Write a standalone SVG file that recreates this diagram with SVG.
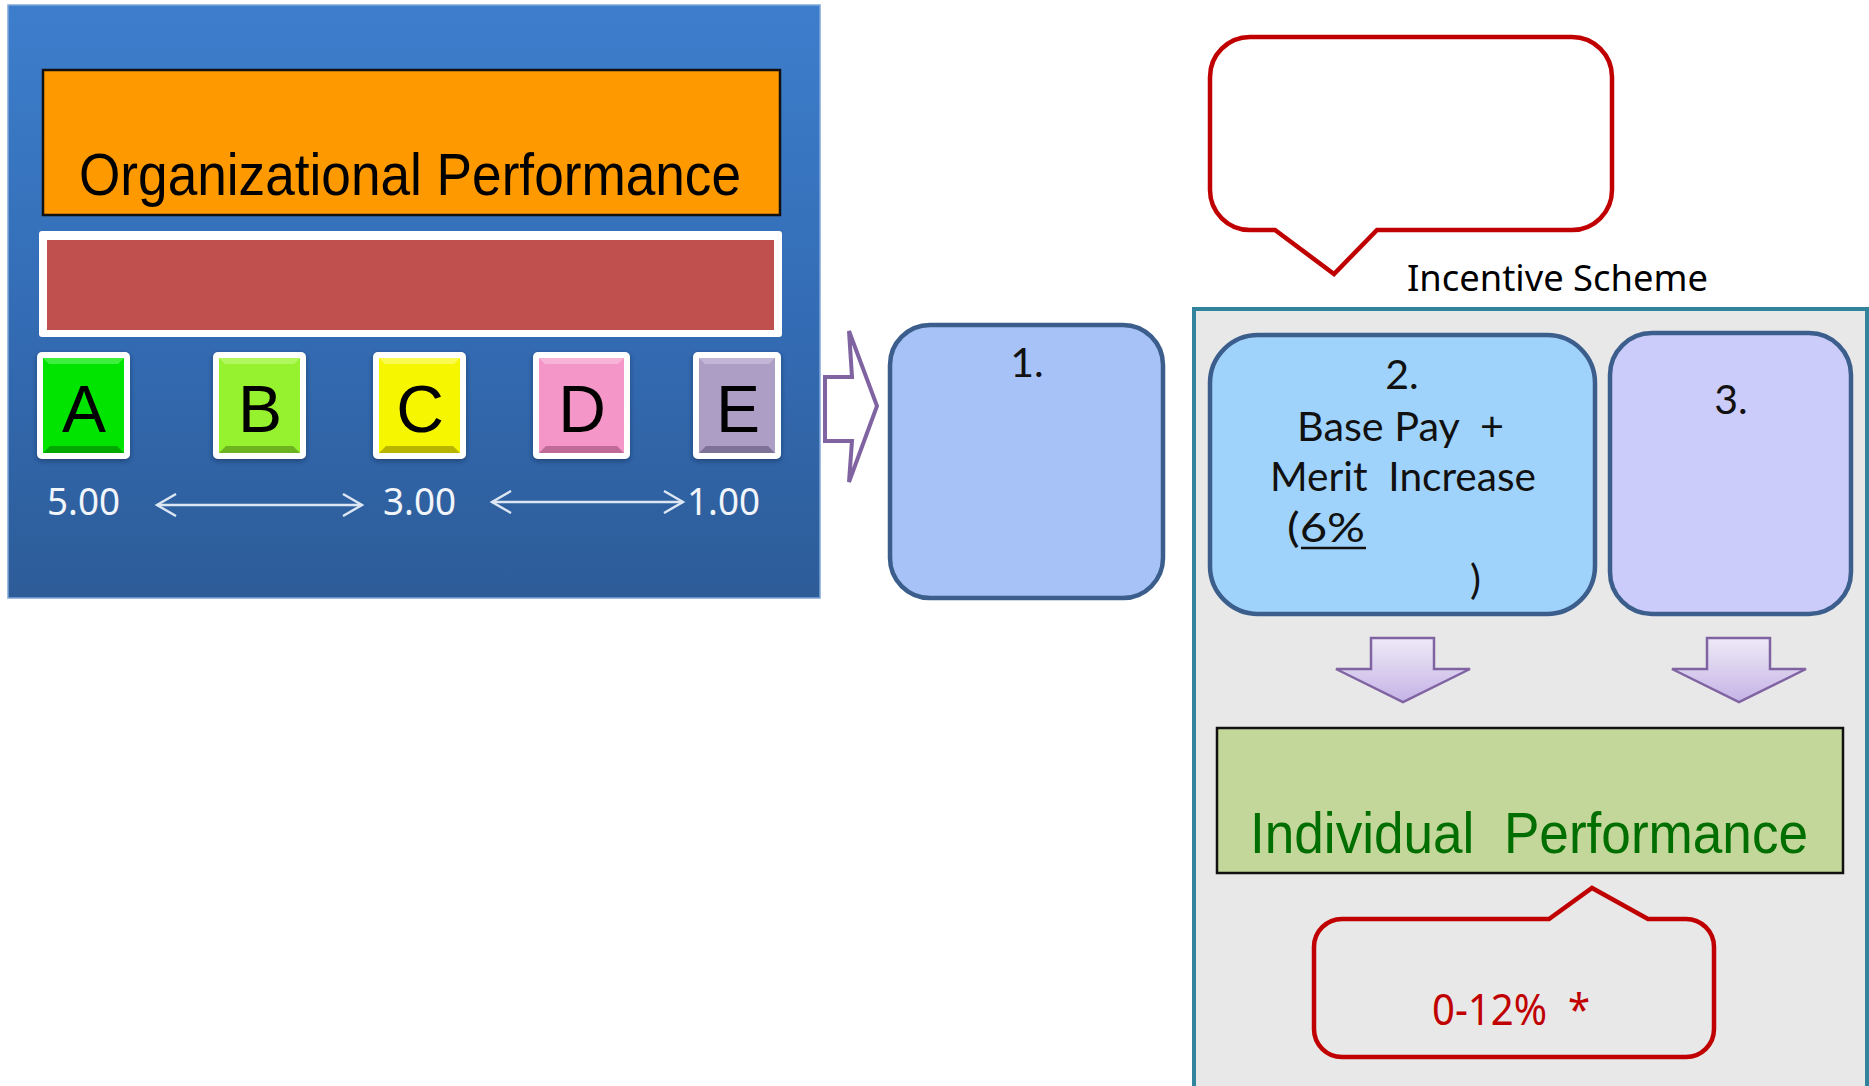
<svg xmlns="http://www.w3.org/2000/svg" width="1869" height="1086" viewBox="0 0 1869 1086">
  <defs>
    <linearGradient id="panelGrad" x1="0" y1="0" x2="0" y2="1">
      <stop offset="0" stop-color="#3D7ECC"/>
      <stop offset="0.5" stop-color="#346DB6"/>
      <stop offset="1" stop-color="#2D5C98"/>
    </linearGradient>
    <linearGradient id="downGrad" x1="0" y1="0" x2="0" y2="1">
      <stop offset="0" stop-color="#EEEAF7"/>
      <stop offset="1" stop-color="#C5B3E6"/>
    </linearGradient>
    <filter id="tileShadow" x="-20%" y="-20%" width="140%" height="140%">
      <feDropShadow dx="0" dy="2" stdDeviation="2.5" flood-color="#0A2040" flood-opacity="0.5"/>
    </filter>
    <marker id="chev" viewBox="0 0 24 24" refX="21" refY="12" markerWidth="24" markerHeight="24" markerUnits="userSpaceOnUse" orient="auto-start-reverse">
      <path d="M2,1 L21,12 L2,23" fill="none" stroke="#DDE7F3" stroke-width="2.4"/>
    </marker>
    <style>
      .sans { font-family: "Liberation Sans", Arial, sans-serif; }
      .ui { font-family: "Noto Sans", "Open Sans", sans-serif; }
      .tileFrame { fill: #FFFFFF; filter: url(#tileShadow); }
      .letter { font-family: "Liberation Sans", Arial, sans-serif; font-size: 66px; fill: #000000; text-anchor: middle; }
      .score { font-family: "Noto Sans", "Open Sans", sans-serif; font-size: 39px; fill: #F2F5FA; }
      .step { stroke: #3B5E8C; stroke-width: 4.5; }
      .boxText { font-family: Lato, "Noto Sans", sans-serif; font-size: 41px; fill: #111111; }
      .callout { fill: none; stroke: #C00000; stroke-width: 4.5; stroke-linejoin: miter; }
      .down { fill: url(#downGrad); stroke: #8064A2; stroke-width: 2.5; }
      .scale { stroke: #DDE7F3; stroke-width: 2.4; fill: none; }
    </style>
  </defs>

  <!-- organizational side -->
  <g id="org-panel">
    <rect x="8" y="5" width="812" height="593" fill="url(#panelGrad)" stroke="#7FA6D8" stroke-width="1.5"/>
  </g>

  <g id="org-performance">
    <rect x="43" y="70" width="737" height="145" fill="#FF9900" stroke="#111111" stroke-width="2.5"/>
    <text class="sans" x="79" y="195" font-size="59" textLength="662" lengthAdjust="spacingAndGlyphs" fill="#000000">Organizational Performance</text>
  </g>

  <g id="org-bar">
    <rect x="39" y="231" width="743" height="106" fill="#FFFFFF" rx="3"/>
    <rect x="47" y="240" width="727" height="90" fill="#C0504D"/>
  </g>

  <!-- grade tiles -->
  <g id="grade-a">
    <rect class="tileFrame" x="37" y="352" width="93" height="107" rx="5"/>
    <rect x="43" y="358" width="81" height="95" fill="#00E400"/>
    <path d="M43,453 L50,446 H117 L124,453 Z" fill="#00A800"/>
    <path d="M43,358 L49,364 H118 L124,358 Z" fill="#3DF03D"/>
    <text class="letter" x="84" y="432">A</text>
  </g>
  <g id="grade-b">
    <rect class="tileFrame" x="213" y="352" width="93" height="107" rx="5"/>
    <rect x="219" y="358" width="81" height="95" fill="#96F22E"/>
    <path d="M219,453 L226,446 H293 L300,453 Z" fill="#6DB320"/>
    <path d="M219,358 L225,364 H294 L300,358 Z" fill="#B0F85E"/>
    <text class="letter" x="260" y="432">B</text>
  </g>
  <g id="grade-c">
    <rect class="tileFrame" x="373" y="352" width="93" height="107" rx="5"/>
    <rect x="379" y="358" width="81" height="95" fill="#F6F600"/>
    <path d="M379,453 L386,446 H453 L460,453 Z" fill="#B8B400"/>
    <path d="M379,358 L385,364 H454 L460,358 Z" fill="#FAFA50"/>
    <text class="letter" x="420" y="432">C</text>
  </g>
  <g id="grade-d">
    <rect class="tileFrame" x="533" y="352" width="97" height="107" rx="5"/>
    <rect x="539" y="358" width="85" height="95" fill="#F496C8"/>
    <path d="M539,453 L546,446 H617 L624,453 Z" fill="#C06A98"/>
    <path d="M539,358 L545,364 H618 L624,358 Z" fill="#F8B4D8"/>
    <text class="letter" x="582" y="432">D</text>
  </g>
  <g id="grade-e">
    <rect class="tileFrame" x="693" y="352" width="88" height="107" rx="5"/>
    <rect x="699" y="358" width="76" height="95" fill="#AC9EC4"/>
    <path d="M699,453 L706,446 H768 L775,453 Z" fill="#7E7298"/>
    <path d="M699,358 L705,364 H769 L775,358 Z" fill="#C2B6D6"/>
    <text class="letter" x="738" y="432">E</text>
  </g>

  <!-- score scale -->
  <g id="score-scale">
    <text class="score" x="47" y="515" textLength="73" lengthAdjust="spacingAndGlyphs">5.00</text>
    <text class="score" x="383" y="515" textLength="73" lengthAdjust="spacingAndGlyphs">3.00</text>
    <text class="score" x="687" y="515" textLength="73" lengthAdjust="spacingAndGlyphs">1.00</text>
  </g>

  <!-- step boxes -->
  <g id="step-1">
    <rect class="step" x="890" y="325" width="273" height="273" rx="40" fill="#A6C2F6"/>
    <text class="boxText" x="1027" y="377" font-size="40" text-anchor="middle">1.</text>
  </g>

  <g id="incentive-label">
    <text class="ui" x="1407" y="291" font-size="36" textLength="301" lengthAdjust="spacingAndGlyphs" fill="#000000">Incentive Scheme</text>
  </g>

  <g id="incentive-scheme">
    <rect x="1194" y="309" width="673" height="800" fill="#E8E8E8" stroke="#31849B" stroke-width="4"/>
  </g>

  <g id="step-2">
    <rect class="step" x="1210" y="335" width="385" height="279" rx="48" fill="#A0D3FB"/>
    <text class="boxText" x="1402" y="389" text-anchor="middle">2.</text>
    <text class="boxText" x="1297" y="441" textLength="207" lengthAdjust="spacingAndGlyphs" style="white-space:pre">Base Pay  +</text>
    <text class="boxText" x="1270" y="491" textLength="266" lengthAdjust="spacingAndGlyphs" style="white-space:pre">Merit  Increase</text>
    <text class="boxText" x="1287" y="542" textLength="78" lengthAdjust="spacingAndGlyphs">(6%</text>
    <line x1="1301" y1="548" x2="1366" y2="548" stroke="#111111" stroke-width="2.5"/>
    <text class="boxText" x="1470" y="594">)</text>
  </g>

  <g id="step-3">
    <rect class="step" x="1610" y="333" width="241" height="281" rx="42" fill="#CCCCFB"/>
    <text class="boxText" x="1731" y="414" text-anchor="middle">3.</text>
  </g>

  <g id="individual-performance">
    <rect x="1217" y="728" width="626" height="145" fill="#C4D79B" stroke="#111111" stroke-width="2.5"/>
    <text class="sans" x="1250" y="853" font-size="58" textLength="558" lengthAdjust="spacingAndGlyphs" fill="#006E00" style="white-space:pre">Individual  Performance</text>
  </g>

  <g id="callout-top">
    <path class="callout" fill="#FFFFFF" d="M1250,37 H1572 A40,40 0 0 1 1612,77 V190 A40,40 0 0 1 1572,230 H1377 L1334,274 L1275,230 H1250 A40,40 0 0 1 1210,190 V77 A40,40 0 0 1 1250,37 Z"/>
  </g>

  <g id="callout-bottom">
    <path class="callout" d="M1342,919 H1549 L1592,888 L1648,919 H1686 A28,28 0 0 1 1714,947 V1029 A28,28 0 0 1 1686,1057 H1342 A28,28 0 0 1 1314,1029 V947 A28,28 0 0 1 1342,919 Z"/>
    <text class="ui" x="1432" y="1025" font-size="44" textLength="158" lengthAdjust="spacingAndGlyphs" fill="#C00000" style="white-space:pre">0-12%  *</text>
  </g>

  <!-- connectors -->
  <g id="connectors">
    <line class="scale" x1="157" y1="505" x2="362" y2="505" marker-start="url(#chev)" marker-end="url(#chev)"/>
    <line class="scale" x1="492" y1="502" x2="683" y2="502" marker-start="url(#chev)" marker-end="url(#chev)"/>
    <path d="M825,377 H852 L849,331 L877,406 L849,482 L852,441 H825 Z" fill="#FFFFFF" stroke="#8064A2" stroke-width="4" stroke-linejoin="miter"/>
    <path class="down" d="M1371,638 H1434 V669 H1470 L1403,702 L1336,669 H1371 Z"/>
    <path class="down" d="M1707,638 H1770 V669 H1806 L1739,702 L1672,669 H1707 Z"/>
  </g>
</svg>
